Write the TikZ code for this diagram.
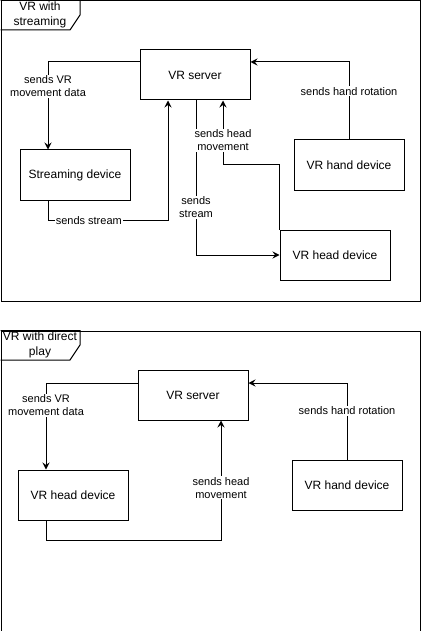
\documentclass[tikz,border=0pt]{standalone}
\usepackage{fontspec}
\setmainfont{Liberation Sans}
\usetikzlibrary{positioning,arrows.meta,calc}

\begin{document}
\begin{tikzpicture}[x=1pt, y=-1pt, line width=1pt, font=\fontsize{12}{14}\selectfont,
  dev/.style={draw, minimum width=110pt, minimum height=50pt, inner sep=0pt, align=center},
  arr/.style={-{Stealth[length=7pt,width=7pt,inset=2.5pt]}},
  lab/.style={fill=white, inner sep=1pt, align=center, font=\fontsize{11}{13}\selectfont},
  frm/.style={draw, minimum width=419.5pt, minimum height=300pt, inner sep=0pt, anchor=north west},
  ttl/.style={align=center, inner sep=0pt, font=\fontsize{12}{15}\selectfont}]
\useasboundingbox (0,0) rectangle (421,631);

% streaming setup
\node[frm] (frameA) at (0.5,0.5) {};
\draw (0.5,0.5) -- (80,0.5) -- (80,15) -- (70,30) -- (0.5,30);
\node[ttl] (titleA) at (40,15) {VR with\\streaming};
\node[dev] (srvA)  at (195,75)  {VR server};
\node[dev] (strm)  at (75,175)  {Streaming device};
\node[dev] (handA) at (349,165) {VR hand device};
\node[dev] (headA) at (335,255) {VR head device};
\draw[arr] ([yshift=13pt]srvA.west) -| node[lab, pos=0.64] {sends VR\\movement data} ([xshift=-27pt]strm.north);
\draw[arr] ([xshift=-27pt]strm.south) -- ++(0,20) -| node[lab, pos=0.17] {sends stream} ([xshift=-27pt]srvA.south);
\draw[arr] ([xshift=1pt]srvA.south) |- node[lab, pos=0.345] {sends\\stream} (headA.west);
\draw[arr] (headA.north west) -- ++(0,-65) -| node[lab, pos=0.69] {sends head\\movement} ([xshift=28pt]srvA.south);
\draw[arr] (handA.north) |- node[lab, pos=0.31] {sends hand rotation} ([yshift=13pt]srvA.east);

% direct play setup
\node[frm] (frameB) at (0.5,330.5) {};
\draw (0.5,330.5) -- (80,330.5) -- (80,345) -- (70,360) -- (0.5,360);
\node[ttl] (titleB) at (40,345) {VR with direct\\play};
\node[dev] (srvB)  at (193,395) {VR server};
\node[dev] (headB) at (73,495)  {VR head device};
\node[dev] (handB) at (347,485) {VR hand device};
\draw[arr] ([yshift=12pt]srvB.west) -| node[lab, pos=0.63] {sends VR\\movement data} ([xshift=-27pt]headB.north);
\draw[arr] ([xshift=-27pt]headB.south) -- ++(0,20) -| node[lab, pos=0.72] {sends head\\movement} ([xshift=28pt]srvB.south);
\draw[arr] (handB.north) |- node[lab, pos=0.32] {sends hand rotation} ([yshift=12pt]srvB.east);
\end{tikzpicture}
\end{document}
